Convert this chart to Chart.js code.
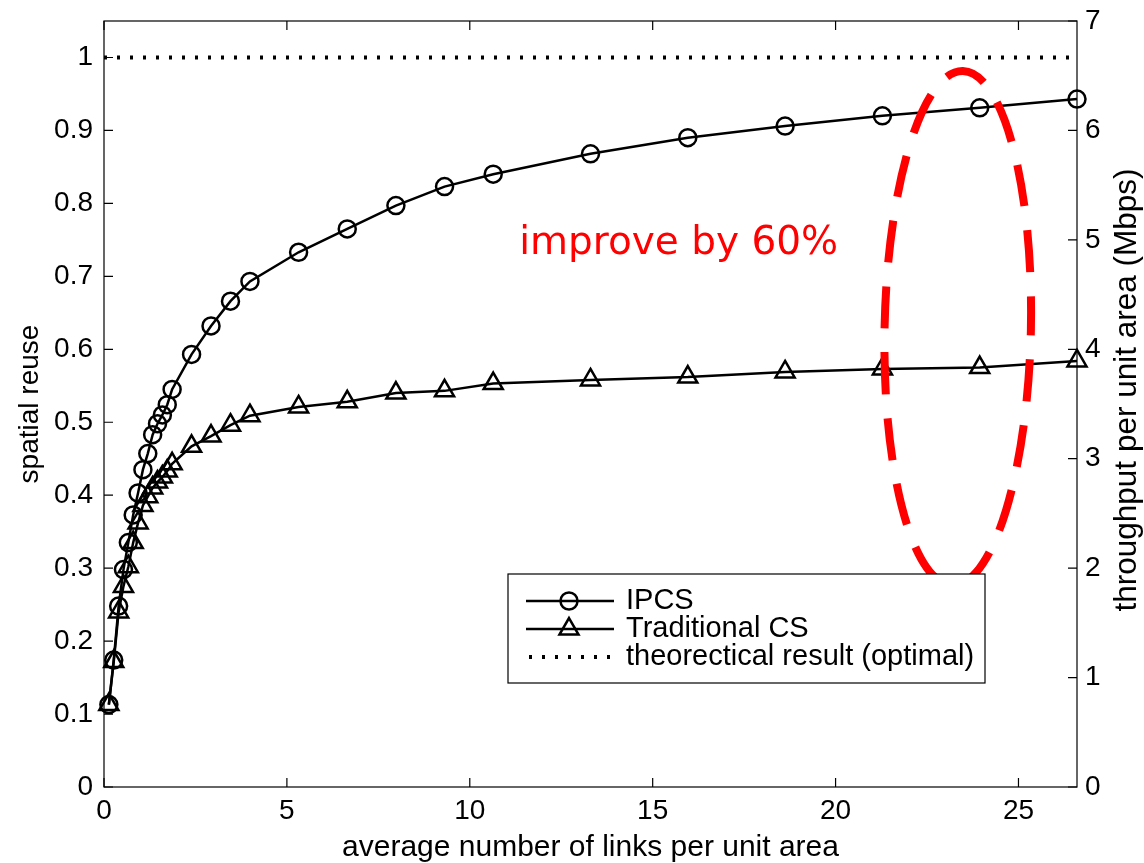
<!DOCTYPE html>
<html>
<head>
<meta charset="utf-8">
<script src="https://cdn.jsdelivr.net/npm/chart.js@4.4.0/dist/chart.umd.min.js"></script>
<style>
  html, body { margin: 0; padding: 0; background: #fff; }
  #wrap { width: 1144px; height: 863px; }
</style>
</head>
<body>
<div id="wrap"><canvas id="myChart" width="1144" height="863"></canvas></div>
<script>
// average number of links per unit area (x)
const linkDensity = [0.133, 0.266, 0.4, 0.532, 0.665, 0.798, 0.931, 1.064, 1.197, 1.33,
  1.463, 1.596, 1.729, 1.862, 2.394, 2.926, 3.458, 3.99, 5.32, 6.65,
  7.98, 9.31, 10.64, 13.3, 15.96, 18.62, 21.28, 23.94, 26.6];
// spatial reuse, IPCS
const ipcsReuse = [0.113, 0.174, 0.248, 0.298, 0.335, 0.373, 0.403, 0.435, 0.457, 0.483,
  0.498, 0.510, 0.524, 0.545, 0.593, 0.632, 0.666, 0.693, 0.733, 0.765,
  0.797, 0.823, 0.840, 0.868, 0.890, 0.906, 0.920, 0.931, 0.943];
// spatial reuse, traditional carrier sense
const traditionalReuse = [0.113, 0.172, 0.240, 0.275, 0.302, 0.335, 0.362, 0.386, 0.398, 0.410,
  0.418, 0.425, 0.433, 0.443, 0.467, 0.481, 0.496, 0.509, 0.521, 0.528,
  0.540, 0.543, 0.553, 0.558, 0.562, 0.569, 0.573, 0.575, 0.584];
// theoretical optimum
const optimalX = [0, 26.6];
const optimalReuse = [1, 1];

const xTicks = [0, 5, 10, 15, 20, 25];
const reuseTicks = [0, 0.1, 0.2, 0.3, 0.4, 0.5, 0.6, 0.7, 0.8, 0.9, 1];
const throughputTicks = [0, 1, 2, 3, 4, 5, 6, 7];
const seriesNames = ['IPCS', 'Traditional CS', 'theorectical result (optimal)'];

const FAMILY = '"Liberation Sans", Arial, sans-serif';
const FONT = { family: FAMILY, size: 28 };

function pts(xs, ys) {
  return xs.map((x, i) => ({ x: x, y: ys[i] }));
}

// box, inward ticks, right title, red note and legend
const extras = {
  id: 'extras',
  afterDraw(chart) {
    const ctx = chart.ctx;
    const a = chart.chartArea;
    const sx = chart.scales.x, sy = chart.scales.y, sr = chart.scales.y2;
    ctx.save();
    ctx.strokeStyle = '#000';
    ctx.lineWidth = 1.2;
    ctx.strokeRect(a.left, a.top, a.right - a.left, a.bottom - a.top);
    ctx.beginPath();
    xTicks.forEach(v => {
      const px = sx.getPixelForValue(v);
      ctx.moveTo(px, a.bottom); ctx.lineTo(px, a.bottom - 9);
      ctx.moveTo(px, a.top); ctx.lineTo(px, a.top + 9);
    });
    reuseTicks.forEach(v => {
      const py = sy.getPixelForValue(v);
      ctx.moveTo(a.left, py); ctx.lineTo(a.left + 9, py);
    });
    throughputTicks.forEach(v => {
      const py = sr.getPixelForValue(v);
      ctx.moveTo(a.right, py); ctx.lineTo(a.right - 9, py);
    });
    ctx.stroke();

    // right axis title, reading bottom to top
    ctx.save();
    ctx.fillStyle = '#000';
    ctx.font = '31.5px ' + FAMILY;
    ctx.textAlign = 'center';
    ctx.textBaseline = 'middle';
    ctx.translate(chart.width - 17, (a.top + a.bottom) / 2 - 14);
    ctx.rotate(-Math.PI / 2);
    ctx.fillText('throughput per unit area (Mbps)', 0, 0);
    ctx.restore();

    // red dashed ellipse
    ctx.strokeStyle = '#ff0000';
    ctx.lineWidth = 8;
    ctx.setLineDash([42, 24]);
    ctx.lineDashOffset = 36;
    const cx = sx.getPixelForValue(23.34), cy = sy.getPixelForValue(0.629);
    const rx = sx.getPixelForValue(2.0) - sx.getPixelForValue(0);
    const ry = sy.getPixelForValue(0) - sy.getPixelForValue(0.3525);
    ctx.beginPath();
    ctx.ellipse(cx, cy, rx, ry, 0.02, 0, Math.PI * 2);
    ctx.stroke();
    ctx.setLineDash([]);

    ctx.fillStyle = '#ff0000';
    ctx.font = '39px "DejaVu Sans", Verdana, sans-serif';
    ctx.textAlign = 'left';
    ctx.textBaseline = 'alphabetic';
    ctx.fillText('improve by 60%', sx.getPixelForValue(11.35), sy.getPixelForValue(0.73));

    // legend
    const lx = 508, ly = 574, lw = 477, lh = 109;
    ctx.fillStyle = '#fff';
    ctx.fillRect(lx, ly, lw, lh);
    ctx.strokeStyle = '#000';
    ctx.lineWidth = 1.2;
    ctx.strokeRect(lx, ly, lw, lh);
    ctx.font = '29px ' + FAMILY;
    ctx.textBaseline = 'middle';
    const styles = ['circle', 'triangle', null];
    seriesNames.forEach((name, i) => {
      const yy = ly + 27 + i * 28;
      ctx.strokeStyle = '#000';
      if (styles[i]) {
        ctx.lineWidth = 2.5;
        ctx.beginPath(); ctx.moveTo(lx + 18, yy); ctx.lineTo(lx + 106, yy); ctx.stroke();
        ctx.fillStyle = 'rgba(0,0,0,0)';
        Chart.helpers.drawPoint(ctx, { pointStyle: styles[i], rotation: 0,
          radius: styles[i] === 'circle' ? 8.5 : 11, borderWidth: 2.5 }, lx + 61, yy);
      } else {
        ctx.lineWidth = 4;
        ctx.setLineDash([3, 10]);
        ctx.beginPath(); ctx.moveTo(lx + 18, yy); ctx.lineTo(lx + 106, yy); ctx.stroke();
        ctx.setLineDash([]);
      }
      ctx.fillStyle = '#000';
      ctx.fillText(name, lx + 118, yy);
    });
    ctx.restore();
  }
};

const axisCommon = {
  grid: { display: false, drawTicks: false, tickLength: 0 },
  border: { display: false },
};

function fixVertical(width) {
  return s => { s.width = width; s.paddingTop = 0; s.paddingBottom = 0; };
}

const config = {
  type: 'line',
  data: {
    datasets: [{
      label: seriesNames[0],
      data: pts(linkDensity, ipcsReuse),
      borderColor: '#000',
      borderWidth: 2.5,
      pointStyle: 'circle',
      pointRadius: 8.5,
      pointBorderWidth: 2.5,
      pointBorderColor: '#000',
      pointBackgroundColor: 'rgba(0,0,0,0)',
      tension: 0,
      clip: false,
      yAxisID: 'y'
    }, {
      label: seriesNames[1],
      data: pts(linkDensity, traditionalReuse),
      borderColor: '#000',
      borderWidth: 2.5,
      pointStyle: 'triangle',
      pointRadius: 11,
      pointBorderWidth: 2.5,
      pointBorderColor: '#000',
      pointBackgroundColor: 'rgba(0,0,0,0)',
      tension: 0,
      clip: false,
      yAxisID: 'y'
    }, {
      label: seriesNames[2],
      data: pts(optimalX, optimalReuse),
      borderColor: '#000',
      borderWidth: 4,
      borderDash: [3, 10],
      borderCapStyle: 'butt',
      pointRadius: 0,
      yAxisID: 'y'
    }]
  },
  options: {
    responsive: false,
    animation: false,
    devicePixelRatio: 1,
    events: [],
    layout: { padding: { top: 21, left: 0, right: 0, bottom: 0 } },
    plugins: { legend: { display: false }, tooltip: { enabled: false } },
    scales: {
      x: Object.assign({}, axisCommon, {
        type: 'linear', min: 0, max: 26.6,
        afterBuildTicks: s => { s.ticks = xTicks.map(v => ({ value: v })); },
        afterFit: s => { s.height = 76; s.paddingLeft = 0; s.paddingRight = 0; },
        ticks: { font: FONT, color: '#000', padding: 7, maxRotation: 0, autoSkip: false,
          callback: v => String(v) },
        title: { display: true, text: 'average number of links per unit area',
          font: { family: FAMILY, size: 30 }, color: '#000', padding: { top: 0, bottom: -3 } }
      }),
      y: Object.assign({}, axisCommon, {
        type: 'linear', position: 'left', min: 0, max: 1.05,
        afterBuildTicks: s => { s.ticks = reuseTicks.map(v => ({ value: v })); },
        afterFit: fixVertical(104),
        ticks: { font: FONT, color: '#000', padding: 11, autoSkip: false,
          callback: v => String(v) },
        title: { display: true, text: 'spatial reuse', font: FONT, color: '#000',
          padding: { top: 13, bottom: 0 } }
      }),
      y2: Object.assign({}, axisCommon, {
        type: 'linear', position: 'right', min: 0, max: 7,
        afterBuildTicks: s => { s.ticks = throughputTicks.map(v => ({ value: v })); },
        afterFit: fixVertical(67),
        ticks: { font: FONT, color: '#000', padding: 8, autoSkip: false,
          callback: v => String(v) },
        title: { display: false }
      })
    }
  },
  plugins: [extras]
};

const ctx = document.getElementById('myChart').getContext('2d');
const myChart = new Chart(ctx, config);
</script>
</body>
</html>
